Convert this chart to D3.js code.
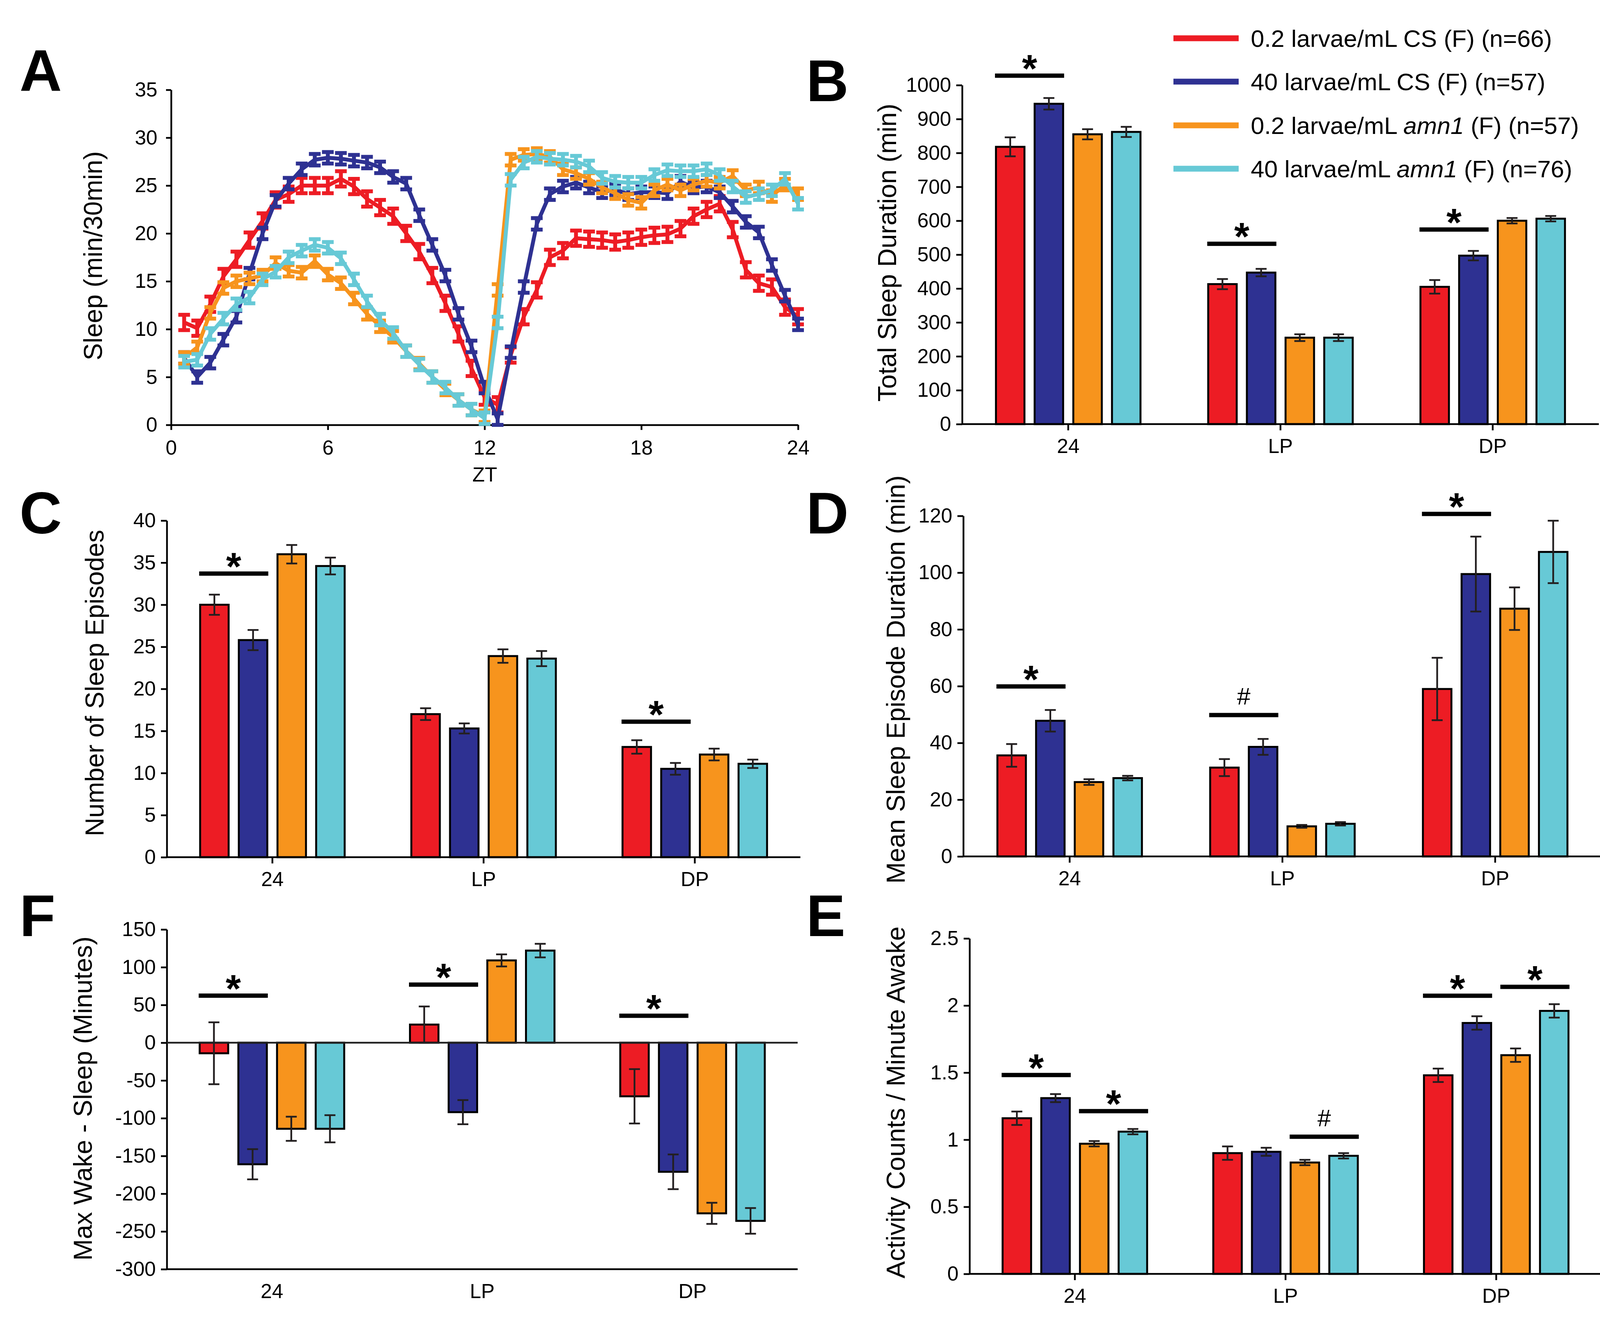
<!DOCTYPE html>
<html><head><meta charset="utf-8">
<script src="https://cdn.jsdelivr.net/npm/d3@7"></script>
<style>
body{margin:0;background:#fff}
svg{display:block;background:#fff}
text{font-family:"Liberation Sans",Arial,Helvetica,sans-serif;fill:#000}
</style>
</head><body>
<svg id="c" width="4140" height="3398"></svg>
<script>
// ---------------- DATA ----------------
const colors = ["#ED1C24", "#2E3192", "#F7941D", "#67C9D6"];
const legendPre = ["0.2 larvae/mL CS", "40 larvae/mL CS", "0.2 larvae/mL ", "40 larvae/mL "];
const legendItalic = ["", "", "amn1", "amn1"];
const legendPost = [" (F) (n=66)", " (F) (n=57)", " (F) (n=57)", " (F) (n=76)"];
const groups = ["24", "LP", "DP"];

// Panel A
const ztHours = [0.5,1,1.5,2,2.5,3,3.5,4,4.5,5,5.5,6,6.5,7,7.5,8,8.5,9,9.5,10,10.5,11,11.5,12,
                 12.5,13,13.5,14,14.5,15,15.5,16,16.5,17,17.5,18,18.5,19,19.5,20,20.5,21,21.5,22,22.5,23,23.5,24];
const sleepRedCS = [10.7,10.1,12.6,15.5,17.3,19.3,21.3,23.5,24.1,25.0,25.0,25.0,25.7,24.9,23.6,22.7,21.8,20.0,18.1,15.6,12.7,9.5,5.9,2.9,
                    2.1,7.3,11.3,14.1,17.5,18.2,19.5,19.4,19.3,19.1,19.3,19.6,19.8,19.9,20.5,21.8,22.5,23.1,20.4,16.2,14.8,14.4,12.3,11.3];
const sleepBlueCS = [7.0,5.0,6.5,8.9,11.3,15.8,20.0,23.4,25.2,26.7,27.7,27.9,27.8,27.6,27.4,26.9,25.9,25.2,21.9,18.8,15.6,11.6,8.2,3.9,
                     0.6,7.6,14.4,21.0,24.1,24.9,25.3,24.8,24.3,24.6,24.1,24.3,24.3,24.2,25.4,24.8,24.9,24.3,22.8,21.2,20.1,16.7,13.5,10.5];
const sleepOrangeAmn = [7.0,8.1,11.7,14.3,15.0,15.3,15.6,16.9,16.1,15.9,17.1,15.7,14.8,13.2,11.6,10.3,9.2,7.7,6.4,5.0,3.7,2.6,1.6,0.9,
                        14.1,27.7,28.2,28.3,28.0,26.7,26.3,25.7,24.8,24.2,23.5,23.2,24.5,25.1,24.5,25.1,25.5,25.3,26.0,24.5,24.8,23.9,25.1,24.1];
const sleepCyanAmn = [6.6,6.8,9.5,11.1,12.6,13.3,15.2,16.0,17.5,18.2,18.8,18.5,17.4,15.2,12.9,11.0,9.6,7.7,6.3,5.0,3.9,2.6,1.6,0.7,
                      10.7,25.6,27.4,28.0,27.8,27.7,27.5,27.0,25.8,25.4,25.3,25.3,26.1,26.6,26.5,26.5,26.7,26.1,24.9,23.8,24.1,24.5,25.7,23.1];
const sleepSem = [0.8, 0.6, 0.6, 0.6];
const aXTicks = [0, 6, 12, 18, 24];
const aYTicks = [0, 5, 10, 15, 20, 25, 30, 35];

// Panel B: total sleep duration (min) [group][series]
const totalSleep = [[818, 945, 855, 862], [413, 447, 255, 255], [405, 497, 600, 606]];
const totalSleepErr = [[28, 17, 15, 15], [15, 11, 10, 10], [20, 14, 8, 8]];
const bTicks = [0, 100, 200, 300, 400, 500, 600, 700, 800, 900, 1000];
const bSig = [{g: 0, a: 0, b: 1, y: 1028, t: "*"}, {g: 1, a: 0, b: 1, y: 532, t: "*"}, {g: 2, a: 0, b: 1, y: 574, t: "*"}];

// Panel C: number of sleep episodes
const episodes = [[30.0, 25.8, 36.0, 34.6], [17.0, 15.3, 23.9, 23.6], [13.1, 10.5, 12.2, 11.1]];
const episodesErr = [[1.2, 1.2, 1.1, 1.0], [0.7, 0.6, 0.8, 0.9], [0.8, 0.7, 0.7, 0.5]];
const cTicks = [0, 5, 10, 15, 20, 25, 30, 35, 40];
const cSig = [{g: 0, a: 0, b: 1, y: 33.7, t: "*"}, {g: 2, a: 0, b: 1, y: 16.1, t: "*"}];

// Panel D: mean sleep episode duration (min)
const episodeDur = [[35.6, 47.8, 26.2, 27.6], [31.3, 38.6, 10.6, 11.5], [59.0, 99.5, 87.3, 107.3]];
const episodeDurErr = [[4.0, 3.8, 1.0, 0.8], [3.0, 2.8, 0.5, 0.6], [11.0, 13.2, 7.5, 11.0]];
const dTicks = [0, 20, 40, 60, 80, 100, 120];
const dSig = [{g: 0, a: 0, b: 1, y: 59.9, t: "*"}, {g: 1, a: 0, b: 1, y: 49.8, t: "#"}, {g: 2, a: 0, b: 1, y: 120.7, t: "*"}];

// Panel F: max wake - sleep (minutes)
const wakeSleep = [[-14, -161, -114, -114], [24, -92, 109, 122], [-71, -171, -226, -236]];
const wakeSleepErr = [[41, 20, 16, 18], [24, 16, 8, 9], [36, 23, 14, 17]];
const fTicks = [-300, -250, -200, -150, -100, -50, 0, 50, 100, 150];
const fSig = [{g: 0, a: 0, b: 1, y: 62.3, t: "*"}, {g: 1, a: 0, b: 1, y: 77, t: "*"}, {g: 2, a: 0, b: 1, y: 35.7, t: "*"}];

// Panel E: activity counts / minute awake
const activity = [[1.16, 1.31, 0.97, 1.06], [0.90, 0.91, 0.83, 0.88], [1.48, 1.87, 1.63, 1.96]];
const activityErr = [[0.05, 0.03, 0.02, 0.02], [0.05, 0.03, 0.02, 0.02], [0.05, 0.05, 0.05, 0.05]];
const eTicks = [0, 0.5, 1, 1.5, 2, 2.5];
const eSig = [{g: 0, a: 0, b: 1, y: 1.482, t: "*"}, {g: 0, a: 2, b: 3, y: 1.213, t: "*"},
              {g: 1, a: 2, b: 3, y: 1.022, t: "#"}, {g: 2, a: 0, b: 1, y: 2.073, t: "*"}, {g: 2, a: 2, b: 3, y: 2.139, t: "*"}];

// ---------------- DRAW ----------------
const svg = d3.select("#c");
svg.append("rect").attr("width", 4140).attr("height", 3398).attr("fill", "#fff");

function styleAxis(g, fs) {
  g.selectAll(".domain").attr("stroke", "#000").attr("stroke-width", 4.5);
  g.selectAll(".tick line").attr("stroke", "#000").attr("stroke-width", 4.5);
  g.selectAll(".tick text").attr("font-size", fs).attr("font-family", "Liberation Sans, Arial, sans-serif").attr("fill", "#000");
}
function panelLetter(t, x, y) {
  svg.append("text").attr("x", x).attr("y", y).attr("font-size", 150).attr("font-weight", "bold").text(t);
}
function yTitle(t, x, y) {
  svg.append("text").attr("transform", `translate(${x},${y}) rotate(-90)`)
    .attr("text-anchor", "middle").attr("dominant-baseline", "central")
    .attr("font-size", 66).text(t);
}

// ---- Panel A ----
(function () {
  const ax = d3.scaleLinear().domain([0, 24]).range([438, 2043]);
  const ay = d3.scaleLinear().domain([0, 35]).range([1088, 230]);
  const gy = svg.append("g").attr("transform", "translate(438,0)")
    .call(d3.axisLeft(ay).tickValues(aYTicks).tickSize(13).tickSizeOuter(0).tickPadding(22).tickFormat(d => String(d)));
  styleAxis(gy, 52);
  const gx = svg.append("g").attr("transform", "translate(0,1088)")
    .call(d3.axisBottom(ax).tickValues(aXTicks).tickSize(13).tickSizeOuter(0).tickPadding(26).tickFormat(d => String(d)));
  styleAxis(gx, 52);
  svg.append("text").attr("x", 1241).attr("y", 1233).attr("text-anchor", "middle").attr("font-size", 52).text("ZT");
  yTitle("Sleep (min/30min)", 238, 655);

  const series = [sleepRedCS, sleepBlueCS, sleepOrangeAmn, sleepCyanAmn];
  const line = d3.line().x((d, i) => ax(ztHours[i])).y(d => ay(d));
  series.forEach((vals, si) => {
    const g = svg.append("g").attr("stroke", colors[si]).attr("fill", "none").attr("stroke-width", 10);
    const pts = vals.map((v, i) => ({x: ax(ztHours[i]), lo: ay(v - sleepSem[si]), hi: ay(v + sleepSem[si])}));
    const eb = g.selectAll("g.eb").data(pts).join("g").attr("class", "eb");
    eb.append("line").attr("x1", d => d.x).attr("x2", d => d.x).attr("y1", d => d.lo).attr("y2", d => d.hi);
    eb.append("line").attr("x1", d => d.x - 15).attr("x2", d => d.x + 15).attr("y1", d => d.lo).attr("y2", d => d.lo);
    eb.append("line").attr("x1", d => d.x - 15).attr("x2", d => d.x + 15).attr("y1", d => d.hi).attr("y2", d => d.hi);
    g.append("path").attr("d", line(vals)).attr("stroke-linejoin", "round");
  });
  panelLetter("A", 50, 232);
})();

// ---- Legend ----
(function () {
  const rows = [98, 209, 321, 432];
  colors.forEach((c, i) => {
    svg.append("line").attr("x1", 3004).attr("x2", 3171).attr("y1", rows[i]).attr("y2", rows[i])
      .attr("stroke", c).attr("stroke-width", 15);
    const t = svg.append("text").attr("x", 3202).attr("y", rows[i] + 22).attr("font-size", 62);
    t.append("tspan").text(legendPre[i]);
    if (legendItalic[i]) t.append("tspan").attr("font-style", "italic").text(legendItalic[i]);
    t.append("tspan").text(legendPost[i]);
  });
})();

// ---- Bar panels ----
function barPanel(o) {
  const x = d3.scaleBand().domain(groups).range([o.x0, o.x1]);
  const inner = d3.scaleBand().domain([0, 1, 2, 3]).range([-185, 185]).paddingInner(0.263);
  const y = d3.scaleLinear().domain(o.domain).range([o.yb, o.yt]);
  const bw = inner.bandwidth();
  const cx = g => x(g) + x.bandwidth() / 2;
  const recs = [];
  o.vals.forEach((row, gi) => row.forEach((v, si) => recs.push({g: groups[gi], s: si, v: v, e: o.errs[gi][si]})));

  const g = svg.append("g");
  g.selectAll("rect.bar").data(recs).join("rect").attr("class", "bar")
    .attr("x", d => cx(d.g) + inner(d.s))
    .attr("width", bw)
    .attr("y", d => Math.min(y(d.v), y(0)))
    .attr("height", d => Math.abs(y(d.v) - y(0)))
    .attr("fill", d => colors[d.s]).attr("stroke", "#000").attr("stroke-width", 5);
  const eb = g.selectAll("g.eb").data(recs).join("g").attr("class", "eb")
    .attr("stroke", "#231F20").attr("stroke-width", 4.5);
  const ex = d => cx(d.g) + inner(d.s) + bw / 2;
  eb.append("line").attr("x1", ex).attr("x2", ex).attr("y1", d => y(d.v - d.e)).attr("y2", d => y(d.v + d.e));
  eb.append("line").attr("x1", d => ex(d) - 14).attr("x2", d => ex(d) + 14).attr("y1", d => y(d.v - d.e)).attr("y2", d => y(d.v - d.e));
  eb.append("line").attr("x1", d => ex(d) - 14).attr("x2", d => ex(d) + 14).attr("y1", d => y(d.v + d.e)).attr("y2", d => y(d.v + d.e));

  const gy = svg.append("g").attr("transform", `translate(${o.x0},0)`)
    .call(d3.axisLeft(y).tickValues(o.ticks).tickSize(15).tickSizeOuter(0).tickPadding(13).tickFormat(d => String(d)));
  styleAxis(gy, 52);
  const baseY = y(o.axisAt);
  svg.append("line").attr("x1", o.x0).attr("x2", o.x1).attr("y1", baseY).attr("y2", baseY)
    .attr("stroke", "#000").attr("stroke-width", 4.5);
  if (o.axisAt !== 0) {
    svg.append("line").attr("x1", o.x0).attr("x2", o.x1).attr("y1", y(0)).attr("y2", y(0))
      .attr("stroke", "#222").attr("stroke-width", 4.5);
  }
  if (o.catTicks) {
    groups.forEach(gn => svg.append("line").attr("x1", cx(gn)).attr("x2", cx(gn)).attr("y1", baseY).attr("y2", baseY + 16)
      .attr("stroke", "#000").attr("stroke-width", 4.5));
  }
  groups.forEach(gn => svg.append("text").attr("x", cx(gn)).attr("y", baseY + 74).attr("text-anchor", "middle")
    .attr("font-size", 52).text(gn));
  o.sig.forEach(s => {
    const gn = groups[s.g];
    const xa = cx(gn) + inner(s.a) - 2.5, xb = cx(gn) + inner(s.b) + bw + 2.5;
    const yy = y(s.y);
    svg.append("line").attr("x1", xa).attr("x2", xb).attr("y1", yy).attr("y2", yy)
      .attr("stroke", "#000").attr("stroke-width", 11);
    if (s.t === "*") {
      svg.append("text").attr("x", (xa + xb) / 2).attr("y", yy + 16).attr("text-anchor", "middle")
        .attr("font-size", 100).attr("font-weight", "bold").text("*");
    } else {
      svg.append("text").attr("x", (xa + xb) / 2).attr("y", yy - 27).attr("text-anchor", "middle")
        .attr("font-size", 62).text(s.t);
    }
  });
  yTitle(o.title, o.tx, o.ty);
  panelLetter(o.letter, o.lx, o.ly);
}

barPanel({x0: 2463, x1: 4093, yb: 1086, yt: 218, domain: [0, 1000], ticks: bTicks, vals: totalSleep, errs: totalSleepErr,
  axisAt: 0, catTicks: true, sig: bSig, title: "Total Sleep Duration (min)", tx: 2271, ty: 647, letter: "B", lx: 2064, ly: 259});
barPanel({x0: 427, x1: 2049, yb: 2195, yt: 1333, domain: [0, 40], ticks: cTicks, vals: episodes, errs: episodesErr,
  axisAt: 0, catTicks: true, sig: cSig, title: "Number of Sleep Episodes", tx: 242, ty: 1749, letter: "C", lx: 50, ly: 1366});
barPanel({x0: 2466, x1: 4100, yb: 2193, yt: 1321, domain: [0, 120], ticks: dTicks, vals: episodeDur, errs: episodeDurErr,
  axisAt: 0, catTicks: true, sig: dSig, title: "Mean Sleep Episode Duration (min)", tx: 2293, ty: 1740, letter: "D", lx: 2064, ly: 1366});
barPanel({x0: 427, x1: 2042, yb: 3250, yt: 2380, domain: [-300, 150], ticks: fTicks, vals: wakeSleep, errs: wakeSleepErr,
  axisAt: -300, catTicks: false, sig: fSig, title: "Max Wake - Sleep (Minutes)", tx: 212, ty: 2813, letter: "F", lx: 50, ly: 2397});
barPanel({x0: 2482, x1: 4100, yb: 3262, yt: 2403, domain: [0, 2.5], ticks: eTicks, vals: activity, errs: activityErr,
  axisAt: 0, catTicks: true, sig: eSig, title: "Activity Counts / Minute Awake", tx: 2293, ty: 2823, letter: "E", lx: 2064, ly: 2397});
</script>
</body></html>
